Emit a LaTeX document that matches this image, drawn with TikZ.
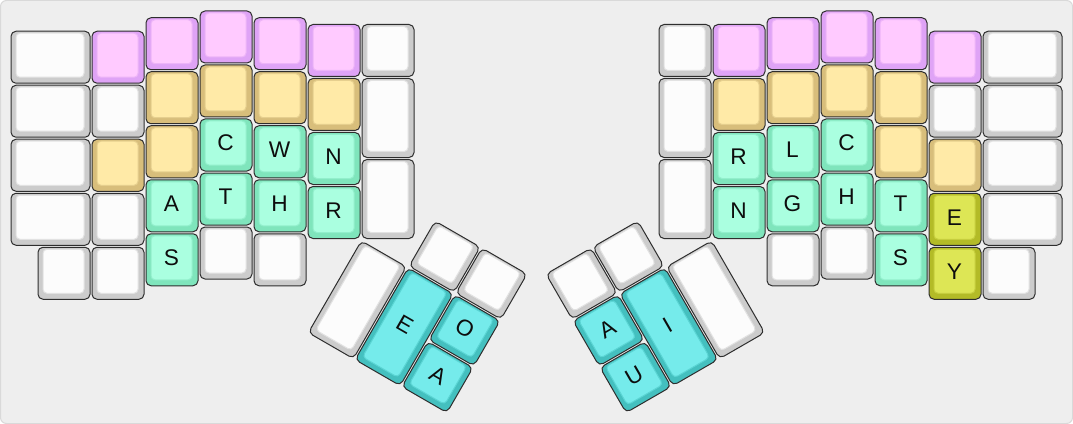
\documentclass[tikz,border=0pt]{standalone}
\usepackage{fontspec}
\setmainfont{Liberation Sans}
\definecolor{bgc}{HTML}{EEEEEE}
\definecolor{bgline}{HTML}{D9D9D9}
\definecolor{keyedge}{HTML}{2E2E2E}
\definecolor{wOut}{HTML}{CCCCCC}\definecolor{wIn}{HTML}{FCFCFC}\definecolor{wLine}{HTML}{E2E2E2}
\definecolor{pOut}{HTML}{DFA3F6}\definecolor{pIn}{HTML}{FFCAFF}\definecolor{pLine}{HTML}{EDB4F8}
\definecolor{yOut}{HTML}{D8BE7B}\definecolor{yIn}{HTML}{FFEAA7}\definecolor{yLine}{HTML}{E6CF8E}
\definecolor{gOut}{HTML}{7FE5BC}\definecolor{gIn}{HTML}{AAFFE0}\definecolor{gLine}{HTML}{92EFCC}
\definecolor{lOut}{HTML}{B3BB27}\definecolor{lIn}{HTML}{DDE655}\definecolor{lLine}{HTML}{C6CE3E}
\definecolor{cOut}{HTML}{44C0BF}\definecolor{cIn}{HTML}{75EBEB}\definecolor{cLine}{HTML}{5BD5D4}
\tikzset{
  keylabel/.style={font=\fontsize{17pt}{19pt}\selectfont, text=black!95, inner sep=0pt},
  capouter/.style={line width=0.75pt, draw=keyedge, rounded corners=3.75pt},
  capinner/.style={line width=0.75pt, rounded corners=3pt}
}
\newcommand\kcap[7]{%
  \filldraw[capouter, fill=#5Out] ({#1+1},{#2+1}) rectangle ({#1+#3-1},{#2+#4-1});
  \filldraw[capinner, fill=#5In, draw=#5Line] ({#1+6},{#2+3}) rectangle ({#1+#3-7},{#2+#4-7});
  \node[keylabel] (#7) at ({#1+(#3-1)/2},{#2+(#4-4)/2}) {#6};
}
\begin{document}
\begin{tikzpicture}[x=0.75pt,y=-0.75pt]
\useasboundingbox (0,0) rectangle (1073,424);
\filldraw[fill=bgc, draw=bgline, line width=0.75pt, rounded corners=4.5pt] (0.5,0.5) rectangle (1072.5,423.5);
% ---------- left half ----------
\kcap{10}{30.25}{81}{54}{w}{}{l00}
\kcap{10}{84.25}{81}{54}{w}{}{l01}
\kcap{10}{138.25}{81}{54}{w}{}{l02}
\kcap{10}{192.25}{81}{54}{w}{}{l03}
\kcap{37}{246.25}{54}{54}{w}{}{l04}
\kcap{91}{30.25}{54}{54}{p}{}{l10}
\kcap{91}{84.25}{54}{54}{w}{}{l11}
\kcap{91}{138.25}{54}{54}{y}{}{l12}
\kcap{91}{192.25}{54}{54}{w}{}{l13}
\kcap{91}{246.25}{54}{54}{w}{}{l14}
\kcap{145}{16.75}{54}{54}{p}{}{l20}
\kcap{145}{70.75}{54}{54}{y}{}{l21}
\kcap{145}{124.75}{54}{54}{y}{}{l22}
\kcap{145}{178.75}{54}{54}{g}{A}{l23}
\kcap{145}{232.75}{54}{54}{g}{S}{l24}
\kcap{199}{10}{54}{54}{p}{}{l30}
\kcap{199}{64}{54}{54}{y}{}{l31}
\kcap{199}{118}{54}{54}{g}{C}{l32}
\kcap{199}{172}{54}{54}{g}{T}{l33}
\kcap{199}{226}{54}{54}{w}{}{l34}
\kcap{253}{16.75}{54}{54}{p}{}{l40}
\kcap{253}{70.75}{54}{54}{y}{}{l41}
\kcap{253}{124.75}{54}{54}{g}{W}{l42}
\kcap{253}{178.75}{54}{54}{g}{H}{l43}
\kcap{253}{232.75}{54}{54}{w}{}{l44}
\kcap{307}{23.5}{54}{54}{p}{}{l50}
\kcap{307}{77.5}{54}{54}{y}{}{l51}
\kcap{307}{131.5}{54}{54}{g}{N}{l52}
\kcap{307}{185.5}{54}{54}{g}{R}{l53}
\kcap{361}{23.5}{54}{54}{w}{}{l60}
\kcap{361}{77.5}{54}{81}{w}{}{l61}
\kcap{361}{158.5}{54}{81}{w}{}{l62}
% ---------- right half ----------
\kcap{658}{23.5}{54}{54}{w}{}{r60}
\kcap{658}{77.5}{54}{81}{w}{}{r61}
\kcap{658}{158.5}{54}{81}{w}{}{r62}
\kcap{712}{23.5}{54}{54}{p}{}{r50}
\kcap{712}{77.5}{54}{54}{y}{}{r51}
\kcap{712}{131.5}{54}{54}{g}{R}{r52}
\kcap{712}{185.5}{54}{54}{g}{N}{r53}
\kcap{766}{16.75}{54}{54}{p}{}{r40}
\kcap{766}{70.75}{54}{54}{y}{}{r41}
\kcap{766}{124.75}{54}{54}{g}{L}{r42}
\kcap{766}{178.75}{54}{54}{g}{G}{r43}
\kcap{766}{232.75}{54}{54}{w}{}{r44}
\kcap{820}{10}{54}{54}{p}{}{r30}
\kcap{820}{64}{54}{54}{y}{}{r31}
\kcap{820}{118}{54}{54}{g}{C}{r32}
\kcap{820}{172}{54}{54}{g}{H}{r33}
\kcap{820}{226}{54}{54}{w}{}{r34}
\kcap{874}{16.75}{54}{54}{p}{}{r20}
\kcap{874}{70.75}{54}{54}{y}{}{r21}
\kcap{874}{124.75}{54}{54}{y}{}{r22}
\kcap{874}{178.75}{54}{54}{g}{T}{r23}
\kcap{874}{232.75}{54}{54}{g}{S}{r24}
\kcap{928}{30.25}{54}{54}{p}{}{r10}
\kcap{928}{84.25}{54}{54}{w}{}{r11}
\kcap{928}{138.25}{54}{54}{y}{}{r12}
\kcap{928}{192.25}{54}{54}{l}{E}{r13}
\kcap{928}{246.25}{54}{54}{l}{Y}{r14}
\kcap{982}{30.25}{81}{54}{w}{}{r00}
\kcap{982}{84.25}{81}{54}{w}{}{r01}
\kcap{982}{138.25}{81}{54}{w}{}{r02}
\kcap{982}{192.25}{81}{54}{w}{}{r03}
\kcap{982}{246.25}{54}{54}{w}{}{r04}
% ---------- left thumb ----------
\begin{scope}[shift={(361,239.5)}, rotate=-30, transform shape]
\kcap{54}{-54}{54}{54}{w}{}{lt1}
\kcap{108}{-54}{54}{54}{w}{}{lt2}
\kcap{0}{0}{54}{108}{w}{}{lt3}
\kcap{54}{0}{54}{108}{c}{E}{lt4}
\kcap{108}{0}{54}{54}{c}{O}{lt5}
\kcap{108}{54}{54}{54}{c}{A}{lt6}
\end{scope}
% ---------- right thumb ----------
\begin{scope}[shift={(712,239.5)}, rotate=30, transform shape]
\kcap{-162}{-54}{54}{54}{w}{}{rt1}
\kcap{-108}{-54}{54}{54}{w}{}{rt2}
\kcap{-162}{0}{54}{54}{c}{A}{rt3}
\kcap{-108}{0}{54}{108}{c}{I}{rt4}
\kcap{-54}{0}{54}{108}{w}{}{rt5}
\kcap{-162}{54}{54}{54}{c}{U}{rt6}
\end{scope}
\end{tikzpicture}
\end{document}
